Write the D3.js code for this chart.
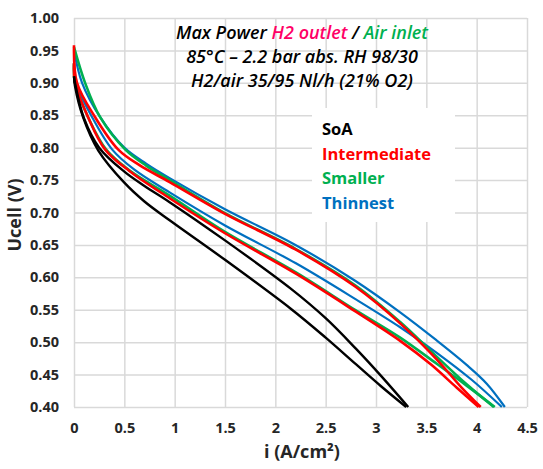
<html>
<head>
<meta charset="UTF-8">
<title>Polarization curves</title>
<script src="https://d3js.org/d3.v7.min.js"></script>
<style>
  body { margin: 0; background: #fff; }
  svg { display: block; }
  .tick text { font-family: "Open Sans", sans-serif; font-weight: bold; font-size: 14.5px; fill: #262626; }
</style>
</head>
<body>
<script>
var width = 543;
var height = 469;

// ticks
var xTicks = [0, 0.5, 1, 1.5, 2, 2.5, 3, 3.5, 4, 4.5];
var yTicks = [0.40, 0.45, 0.50, 0.55, 0.60, 0.65, 0.70, 0.75, 0.80, 0.85, 0.90, 0.95, 1.00];

// series names / colours
var categories = ["SoA", "Intermediate", "Smaller", "Thinnest"];
var colors = ["#000000", "#ff0000", "#00b050", "#0070c0"];

// [i (A/cm2), Ucell (V)], two scans per sample
var soaUp = [[0,0.91],[0.01,0.90],[0.1,0.845],[0.25,0.80],[0.5,0.763],[0.7,0.741],[0.95,0.716],[1.5,0.657],[2.15,0.583],[2.5,0.537],[2.8,0.49],[3.05,0.448],[3.32,0.40]];
var soaLow = [[0,0.91],[0.01,0.895],[0.09,0.847],[0.24,0.796],[0.5,0.746],[0.7,0.717],[0.95,0.688],[1.5,0.627],[2.15,0.552],[2.5,0.507],[2.8,0.466],[3.05,0.432],[3.3,0.40]];
var interUp = [[0,0.958],[0.03,0.90],[0.21,0.847],[0.44,0.797],[0.65,0.773],[0.95,0.747],[1.5,0.698],[2.2,0.643],[2.8,0.585],[3.24,0.529],[3.6,0.474],[3.85,0.43],[4.04,0.40]];
var interLow = [[0,0.93],[0.01,0.90],[0.14,0.847],[0.31,0.797],[0.55,0.764],[0.95,0.722],[1.5,0.668],[2.2,0.606],[2.8,0.547],[3.24,0.502],[3.55,0.465],[3.8,0.43],[4.02,0.40]];
var smallUp = [[0,0.955],[0.11,0.90],[0.26,0.847],[0.51,0.797],[0.72,0.772],[0.95,0.75],[1.5,0.699],[2.2,0.644],[2.8,0.587],[3.24,0.531],[3.6,0.478],[3.9,0.435],[4.17,0.40]];
var smallLow = [[0,0.93],[0.01,0.90],[0.14,0.847],[0.32,0.797],[0.55,0.765],[0.95,0.726],[1.5,0.67],[2.2,0.608],[2.8,0.549],[3.24,0.507],[3.6,0.467],[3.9,0.433],[4.18,0.40]];
var thinUp = [[0,0.95],[0.08,0.90],[0.26,0.847],[0.5,0.80],[0.72,0.775],[0.95,0.753],[1.5,0.705],[2.2,0.65],[2.8,0.594],[3.24,0.546],[3.6,0.503],[3.9,0.465],[4.1,0.436],[4.28,0.40]];
var thinLow = [[0,0.93],[0.02,0.90],[0.18,0.847],[0.38,0.797],[0.6,0.766],[0.95,0.731],[1.5,0.68],[2.2,0.622],[2.8,0.566],[3.24,0.523],[3.6,0.484],[3.95,0.442],[4.25,0.40]];

var series = [
  [thinUp, thinLow],
  [smallUp, smallLow],
  [interUp, interLow],
  [soaUp, soaLow]
];
var seriesColor = [colors[3], colors[2], colors[1], colors[0]];
var seriesWidth = [2.2, 2.6, 2.6, 2.4];

var svg = d3.select("body").append("svg")
  .attr("width", width)
  .attr("height", height);

var x = d3.scaleLinear().domain([0, 4.5]).range([74, 527]);
var y = d3.scaleLinear().domain([0.4, 1.0]).range([407, 18]);

// grid lines
svg.append("g")
  .attr("transform", "translate(0," + y(0.4) + ")")
  .call(d3.axisBottom(x).tickValues(xTicks).tickSize(-(y(0.4) - y(1.0))).tickFormat(""))
  .call(function(g){ g.select(".domain").remove(); })
  .selectAll("line").attr("stroke", "#d9d9d9").attr("stroke-width", 1.5);
svg.append("g")
  .attr("transform", "translate(" + x(0) + ",0)")
  .call(d3.axisLeft(y).tickValues(yTicks).tickSize(-(x(4.5) - x(0))).tickFormat(""))
  .call(function(g){ g.select(".domain").remove(); })
  .selectAll("line").attr("stroke", "#d9d9d9").attr("stroke-width", 1.5);

// tick labels
var xAxis = svg.append("g")
  .attr("transform", "translate(0," + y(0.4) + ")")
  .call(d3.axisBottom(x).tickValues(xTicks).tickSize(0).tickPadding(16).tickFormat(function(d){ return d; }));
xAxis.select(".domain").remove();
var yAxis = svg.append("g")
  .attr("transform", "translate(" + x(0) + ",0)")
  .call(d3.axisLeft(y).tickValues(yTicks).tickSize(0).tickPadding(15).tickFormat(d3.format(".2f")));
yAxis.select(".domain").remove();

// legend box (white, hides grid)
svg.append("rect")
  .attr("x", 312).attr("y", 108)
  .attr("width", 143).attr("height", 114)
  .attr("fill", "#fff");

// curves
var line = d3.line()
  .x(function(d){ return x(d[0]); })
  .y(function(d){ return y(d[1]); })
  .curve(d3.curveCatmullRom.alpha(0.5));

series.forEach(function(s, k){
  s.forEach(function(pts){
    svg.append("path")
      .datum(pts)
      .attr("d", line)
      .attr("fill", "none")
      .attr("stroke", seriesColor[k])
      .attr("stroke-width", seriesWidth[k]);
  });
});

// legend
svg.selectAll(".leg")
  .data(categories)
  .enter()
  .append("text")
  .attr("x", 322)
  .attr("y", function(d, i){ return 135 + i * 24.5; })
  .attr("fill", function(d, i){ return colors[i]; })
  .style("font-family", "'Open Sans', sans-serif")
  .style("font-weight", "bold")
  .style("font-size", "16.5px")
  .text(function(d){ return d; });

// title
var title = svg.append("g")
  .style("font-family", "'Open Sans', sans-serif")
  .style("font-style", "italic")
  .style("font-weight", "600")
  .style("font-size", "18px")
  .attr("text-anchor", "middle");
var t1 = title.append("text").attr("x", 302).attr("y", 39);
t1.append("tspan").attr("fill", "#000").text("Max Power ");
t1.append("tspan").attr("fill", "#ff0066").text("H2 outlet");
t1.append("tspan").attr("fill", "#000").text(" / ");
t1.append("tspan").attr("fill", "#00b050").text("Air inlet");
title.append("text").attr("x", 302).attr("y", 63).attr("fill", "#000").text("85°C – 2.2 bar abs. RH 98/30");
title.append("text").attr("x", 302).attr("y", 87).attr("fill", "#000").text("H2/air 35/95 Nl/h (21% O2)");

// axis titles
svg.append("text")
  .attr("transform", "translate(21,215) rotate(-90)")
  .attr("text-anchor", "middle")
  .style("font-family", "'Open Sans', sans-serif")
  .style("font-weight", "bold")
  .style("font-size", "18px")
  .attr("fill", "#262626")
  .text("Ucell (V)");
svg.append("text")
  .attr("x", 302).attr("y", 458)
  .attr("text-anchor", "middle")
  .style("font-family", "'Open Sans', sans-serif")
  .style("font-weight", "bold")
  .style("font-size", "18px")
  .attr("fill", "#262626")
  .text("i (A/cm²)");
</script>
</body>
</html>
